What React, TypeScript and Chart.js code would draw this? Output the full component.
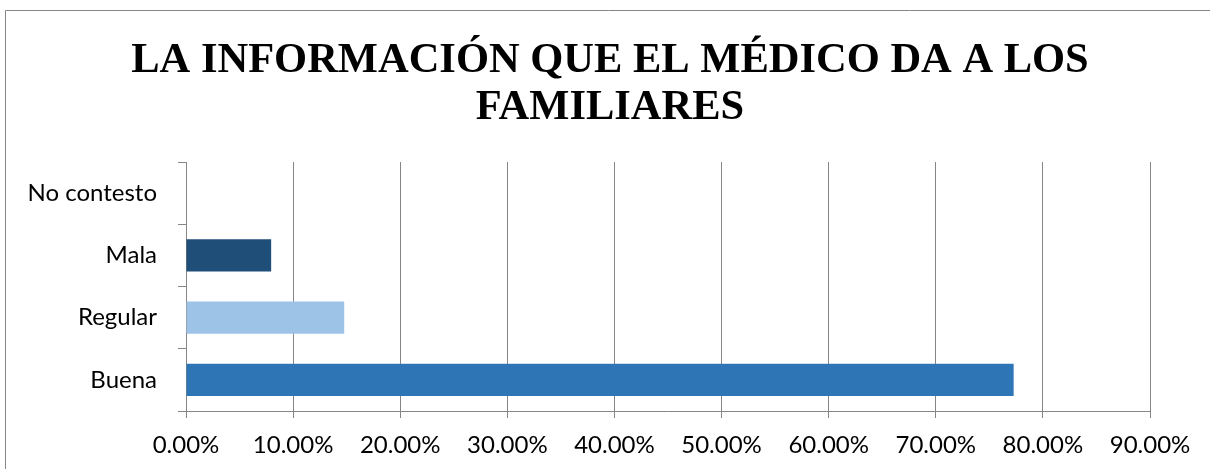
import React, { useEffect, useRef } from "react";
import { Chart, registerables } from "chart.js";

Chart.register(...registerables);

const titleLines = ["LA INFORMACIÓN QUE EL MÉDICO DA A LOS", "FAMILIARES"];
const categories = ["No contesto", "Mala", "Regular", "Buena"];
const values = [0, 0.0795, 0.1477, 0.7727];
const barColors = ["#2E75B6", "#1F4E79", "#9DC3E6", "#2E75B6"];
const xMin = 0;
const xMax = 0.9;
const xStep = 0.1;

const frameAndTitle = {
  id: "frameAndTitle",
  beforeDraw(chart: any) {
    const ctx = chart.ctx;
    ctx.save();
    ctx.fillStyle = "#ffffff";
    ctx.fillRect(0, 0, chart.width, chart.height);
    ctx.strokeStyle = "#868686";
    ctx.lineWidth = 1;
    ctx.beginPath();
    ctx.moveTo(5.5, chart.height + 5);
    ctx.lineTo(5.5, 10.5);
    ctx.lineTo(chart.width + 5, 10.5);
    ctx.stroke();
    ctx.restore();
  },
  afterDraw(chart: any) {
    const ctx = chart.ctx;
    ctx.save();
    ctx.font = 'bold 42.5px "Liberation Serif"';
    ctx.fillStyle = "#000000";
    ctx.textAlign = "center";
    ctx.textBaseline = "alphabetic";
    ctx.fillText(titleLines[0], 610, 72);
    ctx.fillText(titleLines[1], 610, 119);
    ctx.restore();
  },
};

export default function App() {
  const ref = useRef<HTMLCanvasElement | null>(null);

  useEffect(() => {
    if (!ref.current) return;
    const chart = new Chart(ref.current, {
      type: "bar",
      data: {
        labels: categories,
        datasets: [
          {
            data: values,
            backgroundColor: barColors,
            borderWidth: 0,
            barPercentage: 0.52,
            categoryPercentage: 1,
          },
        ],
      },
      plugins: [frameAndTitle],
      options: {
        indexAxis: "y",
        animation: false,
        responsive: true,
        maintainAspectRatio: false,
        layout: { padding: { top: 162, right: 60, left: 0, bottom: 0 } },
        plugins: {
          legend: { display: false },
          title: { display: false },
          tooltip: { enabled: false },
        },
        scales: {
          x: {
            type: "linear",
            min: xMin,
            max: xMax,
            ticks: {
              stepSize: xStep,
              color: "#000000",
              padding: 13,
              font: { family: "Lato", size: 24 },
              callback: (v: any) => (Number(v) * 100).toFixed(2) + "%",
            },
            grid: {
              color: "#868686",
              lineWidth: 1,
              tickLength: 7,
              drawTicks: true,
            },
            border: { color: "#868686", width: 1 },
            afterFit: (scale: any) => {
              scale.height = 58;
            },
          },
          y: {
            type: "category",
            ticks: {
              color: "#000000",
              padding: 21,
              font: { family: "Lato", size: 24 },
            },
            grid: {
              color: "#868686",
              drawOnChartArea: false,
              drawTicks: true,
              tickLength: 8,
              offset: true,
            },
            border: { color: "#868686", width: 1 },
            afterFit: (scale: any) => {
              scale.width = 186;
            },
          },
        },
      },
    });
    return () => chart.destroy();
  }, []);

  return (
    <div
      style={{
        position: "fixed",
        left: 0,
        top: 0,
        width: 1210,
        height: 469,
        overflow: "hidden",
        background: "#fff",
      }}
    >
      <canvas ref={ref} />
    </div>
  );
}
